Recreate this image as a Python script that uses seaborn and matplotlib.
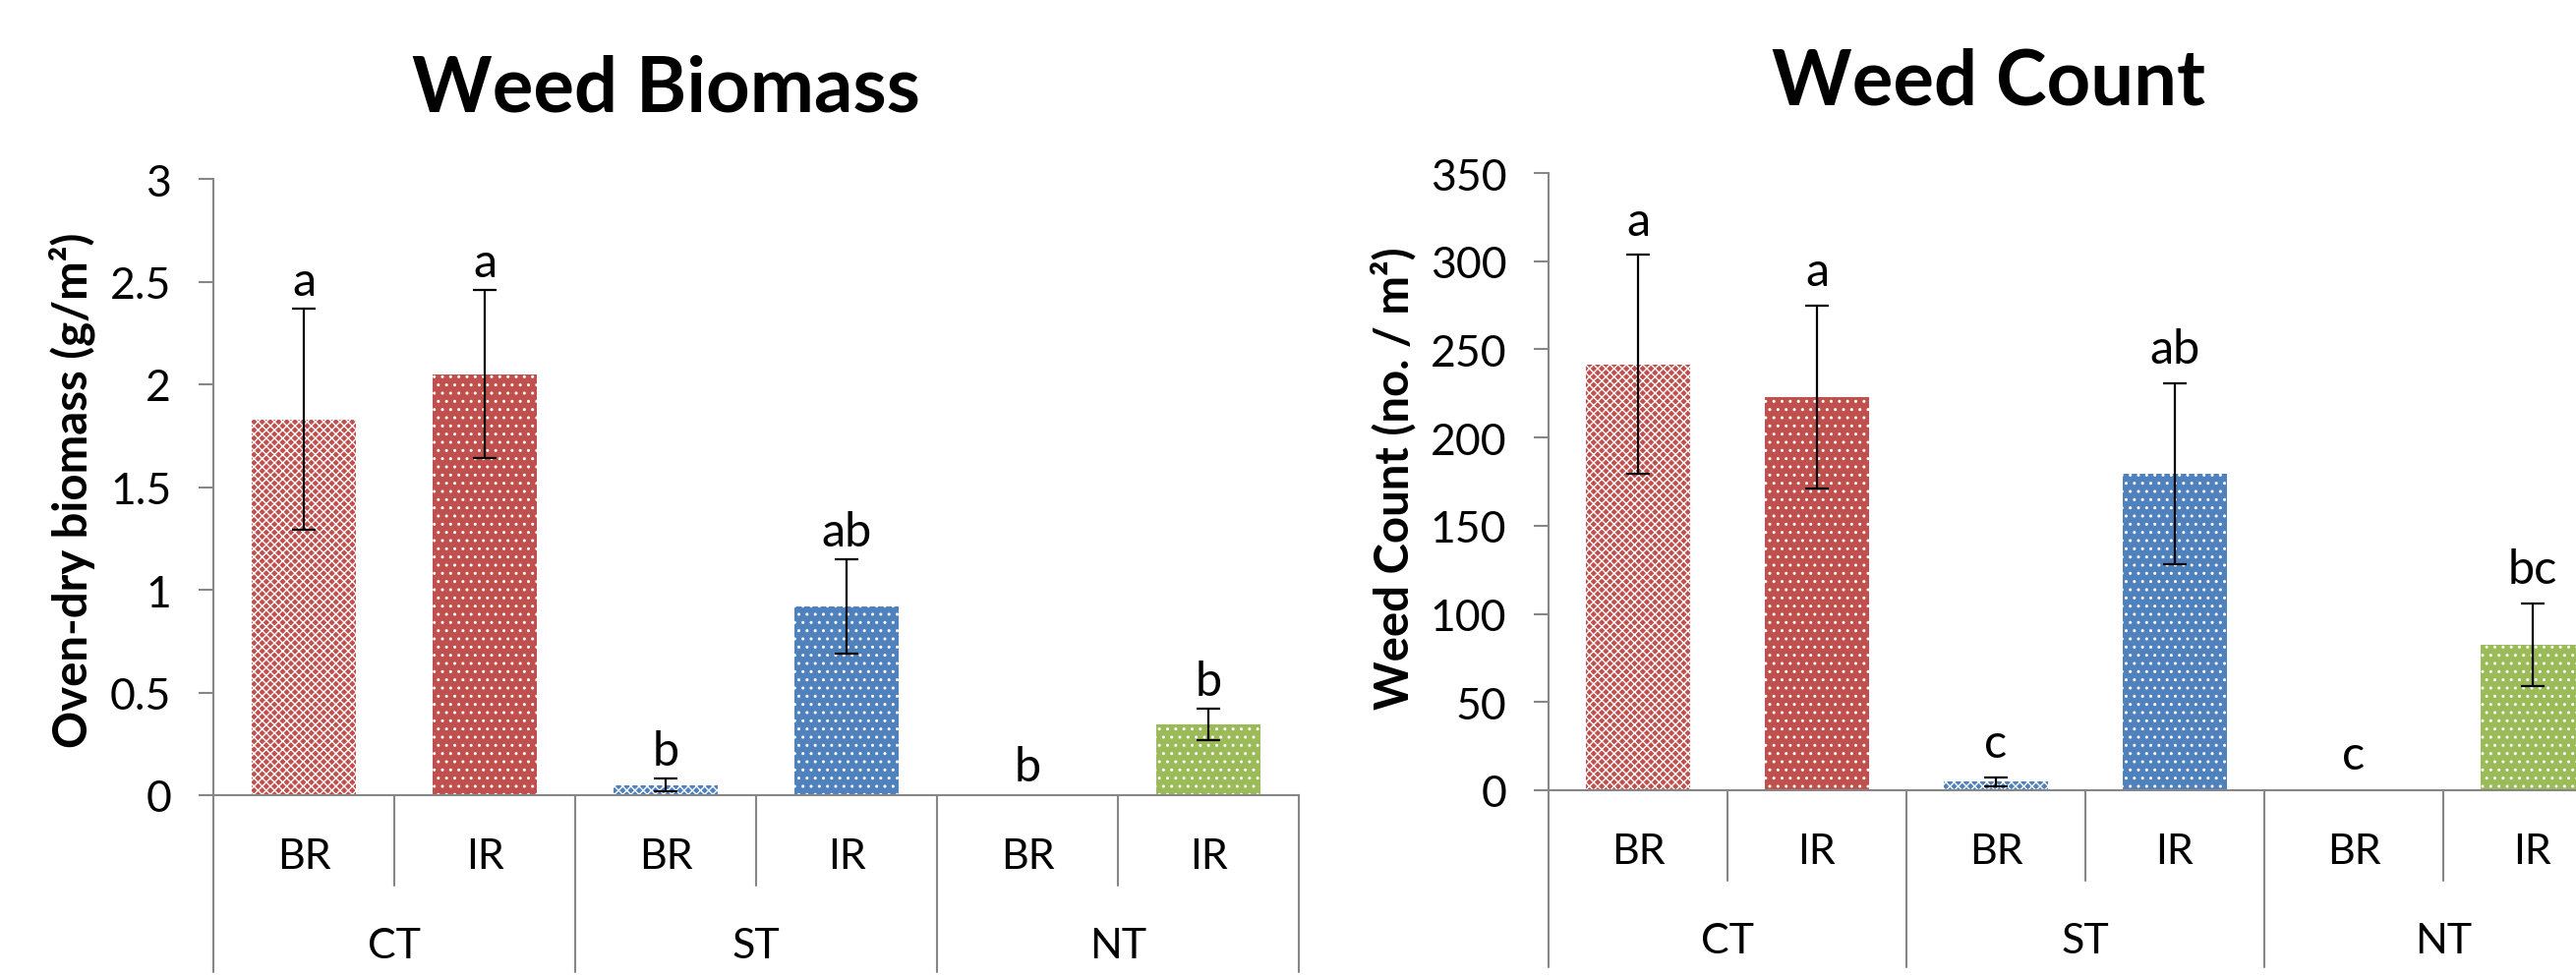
import numpy as np
import pandas as pd
import matplotlib
matplotlib.use("Agg")
import matplotlib.pyplot as plt
import seaborn as sns

# data
tillage = ["CT", "CT", "ST", "ST", "NT", "NT"]
residue = ["BR", "IR", "BR", "IR", "BR", "IR"]
groups = ["CT", "ST", "NT"]

biomass = [1.83, 2.05, 0.05, 0.92, 0.003, 0.345]
biomass_se = [0.54, 0.41, 0.03, 0.23, 0.0, 0.077]
biomass_letters = ["a", "a", "b", "ab", "b", "b"]

count = [241.5, 223.0, 5.0, 179.5, 0.5, 82.5]
count_se = [62.0, 52.0, 2.5, 51.5, 0.0, 23.5]
count_letters = ["a", "a", "c", "ab", "c", "bc"]

till_colors = {"CT": "#C0504D", "ST": "#4F81BD", "NT": "#9BBB59"}
res_hatch = {"BR": "xxxx", "IR": ".."}
gray = "#868686"

sns.set_theme(style="white")
plt.rcParams["font.family"] = ["Lato", "DejaVu Sans"]
plt.rcParams["hatch.linewidth"] = 1.0
plt.rcParams["text.color"] = "black"

W, H, DPI = 2620, 995, 100
fig = plt.figure(figsize=(W / DPI, H / DPI), dpi=DPI)


def draw(rect, vals, errs, letters, ymax, step, ylabel, title, title_xy, ylabel_xy, let_off):
    ax = fig.add_axes(rect)
    keys = [t + " " + r for t, r in zip(tillage, residue)]
    df = pd.DataFrame({"key": keys, "value": vals})
    sns.barplot(data=df, x="key", y="value", hue="key", order=keys, hue_order=keys,
                palette=[till_colors[t] for t in tillage], saturation=1, width=0.58,
                errorbar=None, legend=False, ax=ax)
    for p, r in zip(ax.patches, residue):
        p.set_edgecolor("white")
        p.set_linewidth(0)
        p.set_hatch(res_hatch[r])

    x = np.arange(len(keys))
    e = np.array(errs)
    m = e > 0
    ax.errorbar(x[m], np.array(vals)[m], yerr=e[m], fmt="none", ecolor="black",
                elinewidth=1.6, capsize=8.5, capthick=1.6)
    for i, (v, s, l) in enumerate(zip(vals, errs, letters)):
        ax.annotate(l, (i, v + s), xytext=(0, let_off), textcoords="offset points",
                    ha="center", va="baseline", fontsize=35, color="black")

    ax.set_xlim(-0.5, len(keys) - 0.5)
    ax.set_ylim(0, ymax)
    ticks = np.arange(0, ymax + step / 2, step)
    ax.set_yticks(ticks)
    ax.set_yticklabels([f"{t:g}" for t in ticks])
    ax.set_xticks([])
    ax.set_xlabel("")
    ax.set_ylabel("")
    sns.despine(ax=ax)
    for s in ["left", "bottom"]:
        ax.spines[s].set_color(gray)
        ax.spines[s].set_linewidth(1.5)
    ax.tick_params(axis="y", left=True, direction="out", length=10.8, width=1.5,
                   color=gray, pad=20, labelsize=32, labelcolor="black")

    # multi-level category axis like Excel
    hpx = rect[3] * H
    tr = ax.get_xaxis_transform()
    bounds = np.arange(len(keys) + 1) - 0.5
    for j, b in enumerate(bounds):
        depth = 180 if j % 2 == 0 else 92
        ax.plot([b, b], [0, -depth / hpx], transform=tr, clip_on=False, color=gray, lw=1.5)
    for i, r in enumerate(residue):
        ax.text(i, -62 / hpx, r, transform=tr, ha="center", va="center", fontsize=31)
    for g, name in enumerate(groups):
        ax.text(2 * g + 0.5, -153 / hpx, name, transform=tr, ha="center", va="center", fontsize=31)

    fig.text(title_xy[0] / W, 1 - title_xy[1] / H, title, ha="center", va="baseline",
             fontsize=56, fontweight="bold")
    fig.text(ylabel_xy[0] / W, 1 - ylabel_xy[1] / H, ylabel, ha="center", va="center",
             rotation=90, fontsize=34, fontweight="bold")
    return ax


draw([217 / W, (H - 810) / H, 1104 / W, 627 / H], biomass, biomass_se, biomass_letters,
     3, 0.5, "Oven-dry biomass (g/m²)", "Weed Biomass", (677, 113), (73, 499), 10)
draw([1575 / W, (H - 805) / H, 1092 / W, 628 / H], count, count_se, count_letters,
     350, 50, "Weed Count (no. / m²)", "Weed Count", (2023, 107), (1417, 487), 15)

fig.savefig("out.png", dpi=DPI)
